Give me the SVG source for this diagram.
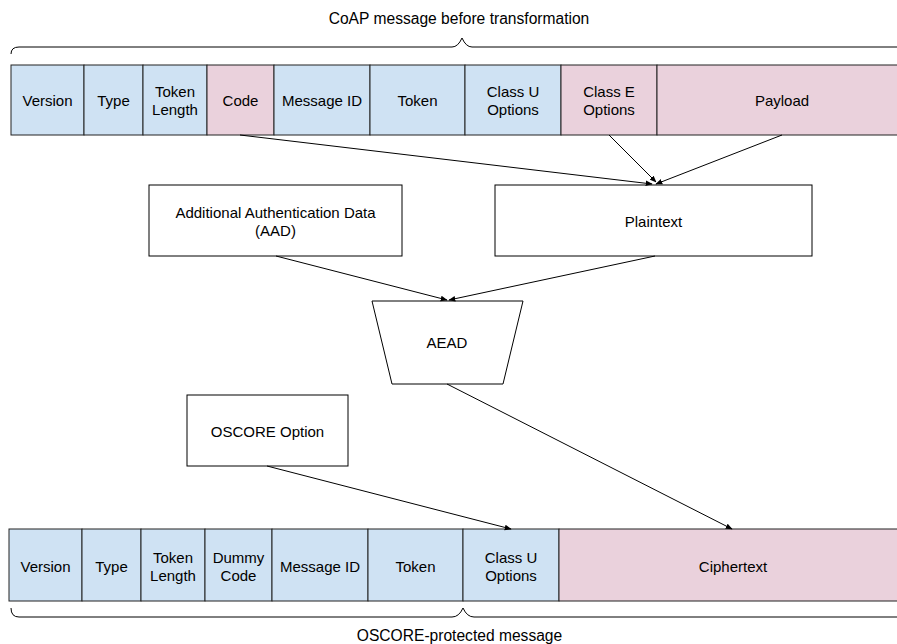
<svg xmlns="http://www.w3.org/2000/svg" width="897" height="644" viewBox="0 0 897 644">
<style>
text{font-family:"Liberation Sans",Arial,sans-serif;font-size:15px;fill:#000;text-anchor:middle;dominant-baseline:central}
text.lbl{font-size:15.6px}
.u{fill:#cfe2f3;stroke:#222;stroke-width:1}
.e{fill:#ead1dc;stroke:#222;stroke-width:1}
.w{fill:#fff;stroke:#000;stroke-width:1}
.c{fill:none;stroke:#000;stroke-width:1}
.b{fill:none;stroke:#000;stroke-width:1}
</style>
<defs>
<marker id="ah" viewBox="0 0 10 10" refX="9" refY="5" markerWidth="7" markerHeight="7" markerUnits="userSpaceOnUse" orient="auto">
<path d="M0,1 L10,5 L0,9 z" fill="#000"/>
</marker>
</defs>
<rect width="897" height="644" fill="#fff"/>
<g id="top-label">
<text class="lbl" x="459" y="18">CoAP message before transformation</text>
<path class="b" d="M11,54 Q11,47 19,47 L452,47 Q458,47 462,38 Q466,47 472,47 L897,47"/>
</g>
<g id="top-row">
<g id="t-version"><rect class="u" x="11" y="65" width="73" height="70"/><text x="47.5" y="100">Version</text></g>
<g id="t-type"><rect class="u" x="84" y="65" width="59" height="70"/><text x="113.5" y="100">Type</text></g>
<g id="t-toklen"><rect class="u" x="143" y="65" width="64" height="70"/><text x="175" y="91">Token</text><text x="175" y="109">Length</text></g>
<g id="t-code"><rect class="e" x="207" y="65" width="67" height="70"/><text x="240.5" y="100">Code</text></g>
<g id="t-msgid"><rect class="u" x="274" y="65" width="96" height="70"/><text x="322" y="100">Message ID</text></g>
<g id="t-token"><rect class="u" x="370" y="65" width="95" height="70"/><text x="417.5" y="100">Token</text></g>
<g id="t-classu"><rect class="u" x="465" y="65" width="96" height="70"/><text x="513" y="91">Class U</text><text x="513" y="109">Options</text></g>
<g id="t-classe"><rect class="e" x="561" y="65" width="96" height="70"/><text x="609" y="91">Class E</text><text x="609" y="109">Options</text></g>
<g id="t-payload"><rect class="e" x="657" y="65" width="250" height="70"/><text x="782" y="100">Payload</text></g>
</g>
<g id="aad"><rect class="w" x="149" y="185" width="253" height="71"/><text x="275.5" y="212">Additional Authentication Data</text><text x="275.5" y="230">(AAD)</text></g>
<g id="plaintext"><rect class="w" x="495" y="185" width="317" height="71"/><text x="653.5" y="221">Plaintext</text></g>
<g id="aead"><polygon class="w" points="372,301 523,301 503,384 392,384"/><text x="447" y="342">AEAD</text></g>
<g id="oscore-option"><rect class="w" x="187" y="395" width="161" height="71"/><text x="267.5" y="431">OSCORE Option</text></g>
<g id="bottom-row">
<g id="b-version"><rect class="u" x="9" y="529" width="73" height="72"/><text x="45.5" y="566">Version</text></g>
<g id="b-type"><rect class="u" x="82" y="529" width="59" height="72"/><text x="111.5" y="566">Type</text></g>
<g id="b-toklen"><rect class="u" x="141" y="529" width="64" height="72"/><text x="173" y="557">Token</text><text x="173" y="575">Length</text></g>
<g id="b-dummy"><rect class="u" x="205" y="529" width="67" height="72"/><text x="238.5" y="557">Dummy</text><text x="238.5" y="575">Code</text></g>
<g id="b-msgid"><rect class="u" x="272" y="529" width="96" height="72"/><text x="320" y="566">Message ID</text></g>
<g id="b-token"><rect class="u" x="368" y="529" width="95" height="72"/><text x="415.5" y="566">Token</text></g>
<g id="b-classu"><rect class="u" x="463" y="529" width="96" height="72"/><text x="511" y="557">Class U</text><text x="511" y="575">Options</text></g>
<g id="b-cipher"><rect class="e" x="559" y="529" width="348" height="72"/><text x="733" y="566">Ciphertext</text></g>
</g>
<g id="bottom-label">
<path class="b" d="M11,608 Q11,617 19,617 L452,617 Q459,617 463,608 Q467,617 474,617 L897,617"/>
<text class="lbl" x="459.5" y="635">OSCORE-protected message</text>
</g>
<g id="connectors">
<line class="c" x1="240" y1="135" x2="652" y2="184" marker-end="url(#ah)"/>
<line class="c" x1="609" y1="135" x2="656" y2="182" marker-end="url(#ah)"/>
<line class="c" x1="782" y1="135" x2="656" y2="184" marker-end="url(#ah)"/>
<line class="c" x1="276" y1="256" x2="447" y2="300" marker-end="url(#ah)"/>
<line class="c" x1="655" y1="256" x2="449" y2="300" marker-end="url(#ah)"/>
<line class="c" x1="447" y1="384" x2="732" y2="529" marker-end="url(#ah)"/>
<line class="c" x1="267" y1="466" x2="511" y2="529" marker-end="url(#ah)"/>
</g>
</svg>
